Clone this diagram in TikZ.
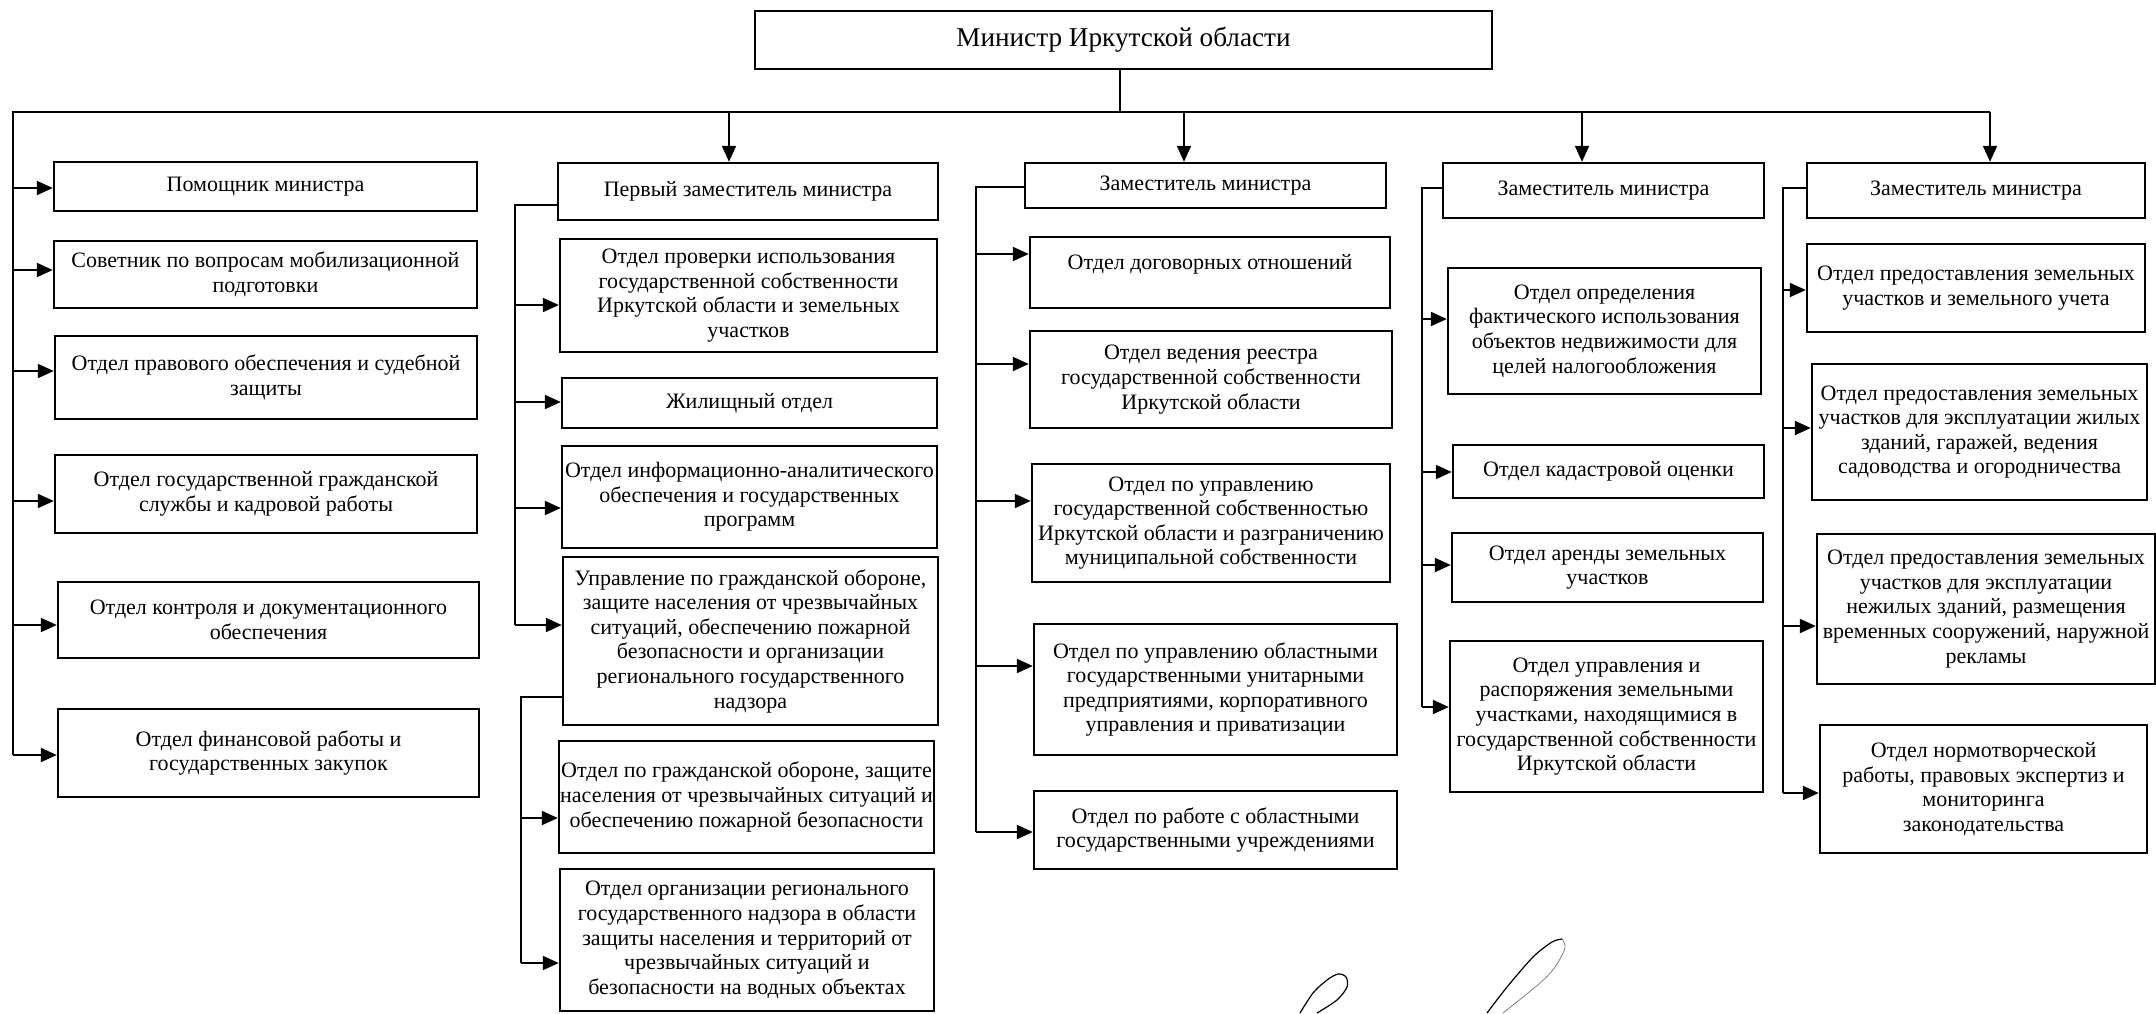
\documentclass[tikz,border=0pt]{standalone}
\usepackage{fontspec}
\setmainfont{Liberation Serif}
\usetikzlibrary{arrows.meta,calc}
\tikzset{
  box/.style={draw, line width=1.2pt, inner sep=0pt, align=center,
    font=\fontsize{11}{12.3}\selectfont},
  conn/.style={line width=1pt},
  arr/.style={line width=1pt, -{Triangle[length=8pt,width=7pt]}},
  sig/.style={line width=0.6pt, line cap=round}
}
\newcommand\bx[6]{%
  \pgfmathsetmacro\cx{(#2+#4)/2}%
  \pgfmathsetmacro\cy{(#3+#5)/2}%
  \pgfmathsetmacro\bw{(#4-#2)*0.5}%
  \pgfmathsetmacro\bh{(#5-#3)*0.5}%
  \node[box, minimum width=\bw pt, minimum height=\bh pt] (#1) at (\cx,\cy) {#6};}
\newcommand\harr[3]{\draw[arr] (#1,#2) coordinate (tmp) -- (tmp -| #3.west);}
\begin{document}
\begin{tikzpicture}[x=0.5pt,y=-0.5pt]
\useasboundingbox (0,0) rectangle (2156,1013);
% minister
\node[box, minimum width=368.5pt, minimum height=29pt,
  font=\fontsize{13.6}{16}\selectfont] (min) at (1123.5,40) {Министр Иркутской области};
% column 1
\bx{pom}{54}{162}{477}{211}{Помощник министра}
\bx{sov}{54}{241}{477}{308}{Советник по вопросам мобилизационной\\подготовки}
\bx{prav}{55}{336}{477}{419}{Отдел правового обеспечения и судебной\\защиты}
\bx{gsl}{55}{455}{477}{533}{Отдел государственной гражданской\\службы и кадровой работы}
\bx{kont}{58}{582}{479}{658}{Отдел контроля и документационного\\обеспечения}
\bx{fin}{58}{709}{479}{797}{Отдел финансовой работы и\\государственных закупок}
% column 2
\bx{perv}{558}{163}{938}{220}{Первый заместитель министра}
\bx{prov}{560}{239}{937}{352}{Отдел проверки использования\\государственной собственности\\Иркутской области и земельных\\участков}
\bx{zhil}{562}{378}{937}{428}{Жилищный отдел}
\bx{info}{562}{446}{937}{548}{Отдел информационно-аналитического\\обеспечения и государственных\\программ}
\bx{upr}{563}{557}{938}{725}{Управление по гражданской обороне,\\защите населения от чрезвычайных\\ситуаций, обеспечению пожарной\\безопасности и организации\\регионального государственного\\надзора}
\bx{go}{559}{741}{934}{853}{Отдел по гражданской обороне, защите\\населения от чрезвычайных ситуаций и\\обеспечению пожарной безопасности}
\bx{nadz}{560}{869}{934}{1011}{Отдел организации регионального\\государственного надзора в области\\защиты населения и территорий от\\чрезвычайных ситуаций и\\безопасности на водных объектах}
% column 3
\bx{zamA}{1025}{163}{1386}{208}{Заместитель министра}
\bx{dog}{1030}{237}{1390}{308}{Отдел договорных отношений\\[-1.3pt]}
\bx{reestr}{1030}{331}{1392}{428}{Отдел ведения реестра\\государственной собственности\\Иркутской области}
\bx{sobst}{1032}{464}{1390}{582}{Отдел по управлению\\государственной собственностью\\Иркутской области и разграничению\\муниципальной собственности}
\bx{unit}{1034}{624}{1397}{755}{Отдел по управлению областными\\государственными унитарными\\предприятиями, корпоративного\\управления и приватизации}
\bx{uchr}{1034}{791}{1397}{869}{Отдел по работе с областными\\государственными учреждениями}
% column 4
\bx{zamB}{1443}{163}{1764}{218}{Заместитель министра}
\bx{fakt}{1448}{268}{1761}{394}{Отдел определения\\фактического использования\\объектов недвижимости для\\целей налогообложения}
\bx{kad}{1453}{445}{1764}{498}{Отдел кадастровой оценки}
\bx{arend}{1452}{533}{1763}{602}{Отдел аренды земельных\\участков}
\bx{rasp}{1450}{641}{1763}{792}{Отдел управления и\\распоряжения земельными\\участками, находящимися в\\государственной собственности\\Иркутской области}
% column 5
\bx{zamC}{1807}{163}{2145}{218}{Заместитель министра}
\bx{uchet}{1807}{244}{2145}{332}{Отдел предоставления земельных\\участков и земельного учета}
\bx{zhilz}{1812}{364}{2147}{500}{Отдел предоставления земельных\\участков для эксплуатации жилых\\зданий, гаражей, ведения\\садоводства и огородничества}
\bx{nezh}{1817}{534}{2155}{684}{Отдел предоставления земельных\\участков для эксплуатации\\нежилых зданий, размещения\\временных сооружений, наружной\\рекламы}
\bx{norm}{1820}{725}{2147}{853}{Отдел нормотворческой\\работы, правовых экспертиз и\\мониторинга\\законодательства}
% bus
\coordinate (stem) at (1120,112);
\draw[conn] (stem |- min.south) -- (stem);
\draw[conn] (13,755) -- (13,112) -- (1990,112);
\coordinate (dA) at (729,112);
\coordinate (dB) at (1184,112);
\coordinate (dC) at (1582,112);
\coordinate (dD) at (1990,112);
\draw[arr] (dA) -- (dA |- perv.north);
\draw[arr] (dB) -- (dB |- zamA.north);
\draw[arr] (dC) -- (dC |- zamB.north);
\draw[arr] (dD) -- (dD |- zamC.north);
% column 1 arrows
\harr{13}{188}{pom}
\harr{13}{270}{sov}
\harr{13}{371}{prav}
\harr{13}{501}{gsl}
\harr{13}{625}{kont}
\harr{13}{755}{fin}
% column 2
\coordinate (v2t) at (515,205);
\draw[conn] (v2t -| perv.west) -- (v2t) -- (515,625);
\harr{515}{305}{prov}
\harr{515}{402}{zhil}
\harr{515}{508}{info}
\harr{515}{625}{upr}
\coordinate (v2b) at (521,697);
\draw[conn] (v2b -| upr.west) -- (v2b) -- (521,963);
\harr{521}{818}{go}
\harr{521}{963}{nadz}
% column 3
\coordinate (v3t) at (976,187);
\draw[conn] (v3t -| zamA.west) -- (v3t) -- (976,832);
\harr{976}{254}{dog}
\harr{976}{364}{reestr}
\harr{976}{501}{sobst}
\harr{976}{666}{unit}
\harr{976}{832}{uchr}
% column 4
\coordinate (v4t) at (1422,188);
\draw[conn] (v4t -| zamB.west) -- (v4t) -- (1422,707);
\harr{1422}{319}{fakt}
\harr{1422}{472}{kad}
\harr{1422}{565}{arend}
\harr{1422}{707}{rasp}
% column 5
\coordinate (v5t) at (1783,188);
\draw[conn] (v5t -| zamC.west) -- (v5t) -- (1783,793);
\harr{1783}{290}{uchet}
\harr{1783}{428}{zhilz}
\harr{1783}{626}{nezh}
\harr{1783}{793}{norm}
% signature
\draw[sig] plot[smooth] coordinates {(1300,1013) (1313,993) (1327,980) (1338,974) (1346,977) (1347,987) (1337,1000) (1317,1013)};
\draw[sig] plot[smooth] coordinates {(1487,1013) (1507,987) (1533,957) (1552,942) (1562,939)};
\draw[sig, gray, line width=0.4pt] plot[smooth] coordinates {(1562,939) (1565,948) (1555,967) (1540,983) (1503,1013)};
\end{tikzpicture}
\end{document}
